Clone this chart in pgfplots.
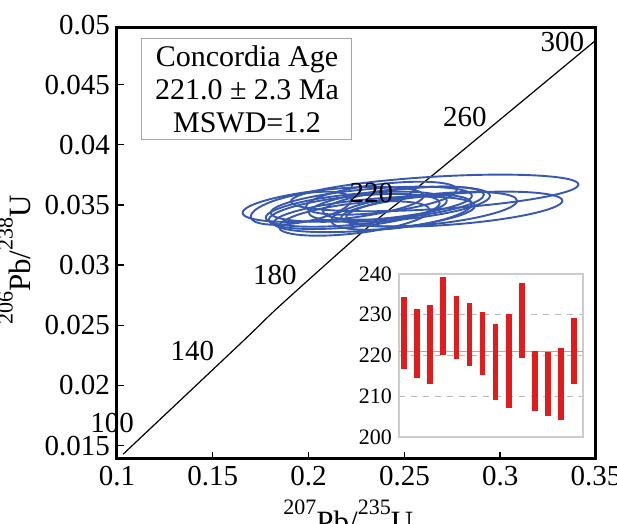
\documentclass[border=0pt]{standalone}
\usepackage{fontspec}
\setmainfont{Liberation Serif}
\usepackage{pgfplots}
\usepackage{pgfplotstable}
\pgfplotsset{compat=1.18}

\definecolor{ellblue}{RGB}{55,88,175}
\definecolor{barred}{RGB}{226,28,28}
\definecolor{meangreen}{RGB}{130,200,140}

\newcommand{\sups}[1]{\raisebox{9pt}{\fontsize{11}{12}\selectfont #1}}

% error ellipse: centre from the table, semi-axes (ax,ay) and (0,by) in data units
\pgfdeclareplotmark{errell}{%
  \pgfpathellipse{\pgfpointorigin}%
    {\pgfplotspointaxisdirectionxy{\ellax}{\ellay}}%
    {\pgfplotspointaxisdirectionxy{0}{\ellby}}%
  \pgfusepathqstroke}

\pgfplotstableread{
x       y       ax      ay      by
0.21281 0.03505 0.04722 0.00070 0.00128
0.22383 0.03446 0.04460 0.00070 0.00128
0.23432 0.03422 0.05247 0.00070 0.00130
0.22383 0.03388 0.03935 0.00070 0.00125
0.26581 0.03600 0.07503 0.00070 0.00135
0.27473 0.03465 0.05772 0.00070 0.00128
0.26423 0.03465 0.04460 0.00070 0.00125
0.24744 0.03506 0.04722 0.00070 0.00128
0.24954 0.03515 0.04198 0.00070 0.00118
0.23275 0.03506 0.05247 0.00070 0.00128
0.22488 0.03465 0.04722 0.00070 0.00128
0.23800 0.03556 0.03935 0.00070 0.00118
0.19602 0.03473 0.02624 0.00070 0.00118
0.24850 0.03440 0.03673 0.00070 0.00128
}\ellipses

\pgfplotstableread{
x      y
0.1032 0.0143
0.1645 0.0235
0.1855 0.0267
0.2291 0.0329
0.2485 0.0354
0.2711 0.0383
0.3508 0.0488
}\concordia

\begin{document}
\begin{tikzpicture}
\useasboundingbox (-58.5pt,-32.5pt) rectangle (250pt,229.5pt);
\begin{axis}[
  at={(0,0)}, anchor=south west,
  scale only axis, width=239.5pt, height=215.5pt,
  xmin=0.1, xmax=0.35, ymin=0.0139, ymax=0.0497,
  xtick={0.1,0.15,0.2,0.25,0.3,0.35},
  ytick={0.015,0.02,0.025,0.03,0.035,0.04,0.045},
  scaled ticks=false,
  tick align=inside, xtick pos=bottom, ytick pos=left,
  major tick length=3.5pt,
  major tick style={black, line width=0.7pt},
  axis line style={line width=1.5pt},
  tick label style={font=\fontsize{14.5}{16}\selectfont,
    /pgf/number format/fixed, /pgf/number format/precision=3,
    /pgf/number format/assume math mode=true},
  xlabel={\sups{207}Pb/\sups{235}U},
  ylabel={\sups{206}Pb/\sups{238}U},
  label style={font=\fontsize{15.5}{18}\selectfont},
  xlabel style={at={(ticklabel cs:0.483)}},
  ylabel style={at={(ticklabel cs:0.462)}},
  clip mode=individual,
]
\addplot[black, line width=0.6pt, smooth] table {\concordia};
\addplot[ellblue, only marks, mark=errell, line width=0.95pt,
  visualization depends on={\thisrow{ax}\as\ellax},
  visualization depends on={\thisrow{ay}\as\ellay},
  visualization depends on={\thisrow{by}\as\ellby},
] table[x=x, y=y] {\ellipses};
\begin{scope}[font=\fontsize{14.5}{16}\selectfont]
\node at (axis cs:0.0974,0.0169) {100};
\node at (axis cs:0.1394,0.0229) {140};
\node at (axis cs:0.1824,0.0292) {180};
\node at (axis cs:0.2328,0.0360) {220};
\node at (axis cs:0.2816,0.0423) {260};
\node at (axis cs:0.3324,0.0485) {300};
\node[anchor=east] at ([yshift=1.5pt]rel axis cs:0,1) {0.05};
\node[draw=gray!70, line width=0.5pt, align=center, minimum width=105pt,
  minimum height=50.5pt, inner sep=2pt, font=\fontsize{15}{16}\selectfont]
  at (rel axis cs:0.2714,0.8573)
  {Concordia Age\\[0.5pt] 221.0 ± 2.3 Ma\\[0.5pt] MSWD=1.2};
\end{scope}
\end{axis}

\begin{axis}[
  at={(141pt,11pt)}, anchor=south west,
  scale only axis, width=92pt, height=81.5pt,
  xmin=0.62, xmax=14.67, ymin=200, ymax=240,
  xtick=\empty, ytick={200,210,220,230,240},
  ymajorgrids, grid style={dashed, gray!55, line width=0.4pt},
  axis line style={gray!40, line width=0.6pt},
  major tick length=0pt,
  axis background/.style={fill=white},
  yticklabel style={font=\fontsize{11}{13}\selectfont,
    /pgf/number format/assume math mode=true},
]
\addplot[meangreen, line width=0.5pt] coordinates {(0.62,221) (14.67,221)};
\addplot[barred, line width=2.8pt, unbounded coords=jump] coordinates {
  (1,216.6) (1,234.3) (1,nan)
  (2,214.4) (2,231.4) (2,nan)
  (3,213.0) (3,232.5) (3,nan)
  (4,220.1) (4,239.3) (4,nan)
  (5,219.2) (5,234.6) (5,nan)
  (6,217.4) (6,232.9) (6,nan)
  (7,215.1) (7,230.6) (7,nan)
  (8,209.0) (8,227.7) (8,nan)
  (9,207.0) (9,230.3) (9,nan)
  (10,219.4) (10,237.9) (10,nan)
  (11,206.4) (11,221.1) (11,nan)
  (12,205.1) (12,220.9) (12,nan)
  (13,204.2) (13,221.9) (13,nan)
  (14,213.0) (14,229.1)
};
\end{axis}
\end{tikzpicture}
\end{document}
